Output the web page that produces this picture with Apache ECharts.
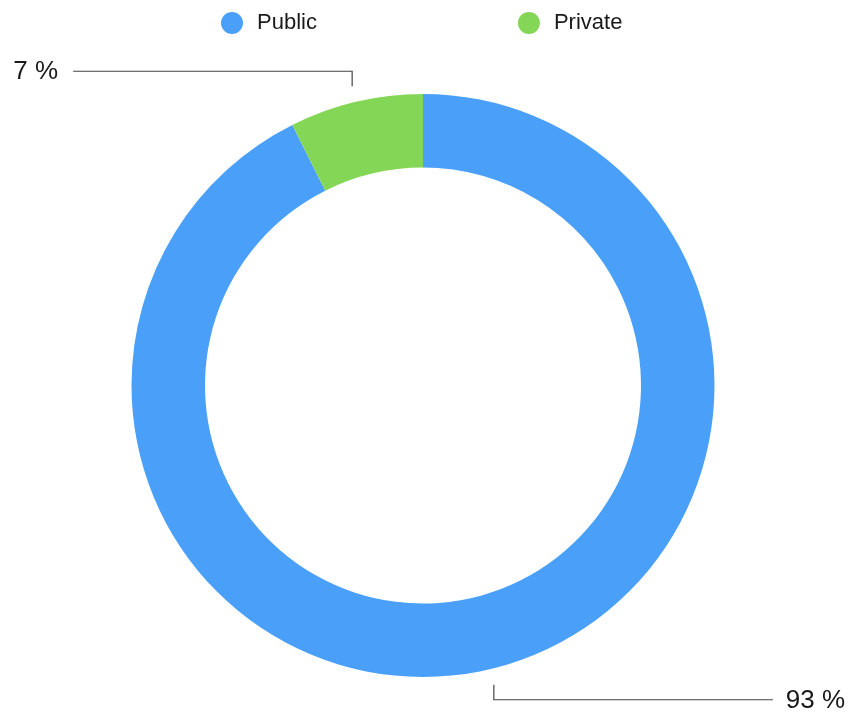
<!DOCTYPE html>
<html>
<head>
<meta charset="utf-8">
<script src="https://cdn.jsdelivr.net/npm/echarts@6/dist/echarts.min.js"></script>
<style>
html,body{margin:0;padding:0;background:#fff;}
#chart{width:852px;height:712px;}
</style>
</head>
<body>
<div id="chart"></div>
<script>
const categories = ['Public', 'Private'];
const values = [92.6, 7.4];
const colors = ['#4AA0F8', '#84D656'];

const chart = echarts.init(document.getElementById('chart'), null, {renderer: 'canvas'});
const FONT = '"Liberation Sans", Arial, Helvetica, sans-serif';

const option = {
  animation: false,
  backgroundColor: '#ffffff',
  color: colors,
  legend: {
    data: categories,
    top: 12,
    left: 221,
    padding: 0,
    icon: 'circle',
    itemWidth: 22,
    itemHeight: 22,
    itemGap: 201,
    textStyle: {
      fontFamily: FONT,
      fontSize: 22,
      color: '#1a1a1a',
      padding: [0, 0, 0, 9]
    }
  },
  series: [{
    type: 'pie',
    center: [423, 385.5],
    radius: [218, 291.5],
    startAngle: 90,
    clockwise: true,
    avoidLabelOverlap: false,
    emphasis: {disabled: true},
    data: categories.map((c, i) => ({name: c, value: values[i]})),
    label: {
      show: true,
      position: 'outside',
      formatter: p => Math.round(p.percent) + ' %',
      fontFamily: FONT,
      fontSize: 26,
      color: '#1a1a1a'
    },
    labelLine: {
      show: true,
      length: 20,
      length2: 20,
      lineStyle: {color: '#444444', width: 1.2}
    },
    labelLayout: function (params) {
      const pts = params.labelLinePoints;
      if (!pts) return {};
      const p0 = pts[0], p1 = pts[1];
      let dx = p1[0] - p0[0], dy = p1[1] - p0[1];
      const len = Math.sqrt(dx * dx + dy * dy) || 1;
      dx /= len; dy /= len;
      const sx = p0[0] + dx * 16;
      const sy = p0[1] + dy * 16;
      const up = dy < 0;
      const vy = up ? sy - 15 : sy + 15;
      const left = dx < 0;
      const ex = left ? sx - 279 : sx + 279;
      const lx = left ? ex - 15 : ex + 13;
      return {
        x: lx,
        y: vy + 1,
        align: left ? 'right' : 'left',
        verticalAlign: 'middle',
        labelLinePoints: [[sx, sy], [sx, vy], [ex, vy]]
      };
    }
  }]
};
chart.setOption(option);
</script>
</body>
</html>
